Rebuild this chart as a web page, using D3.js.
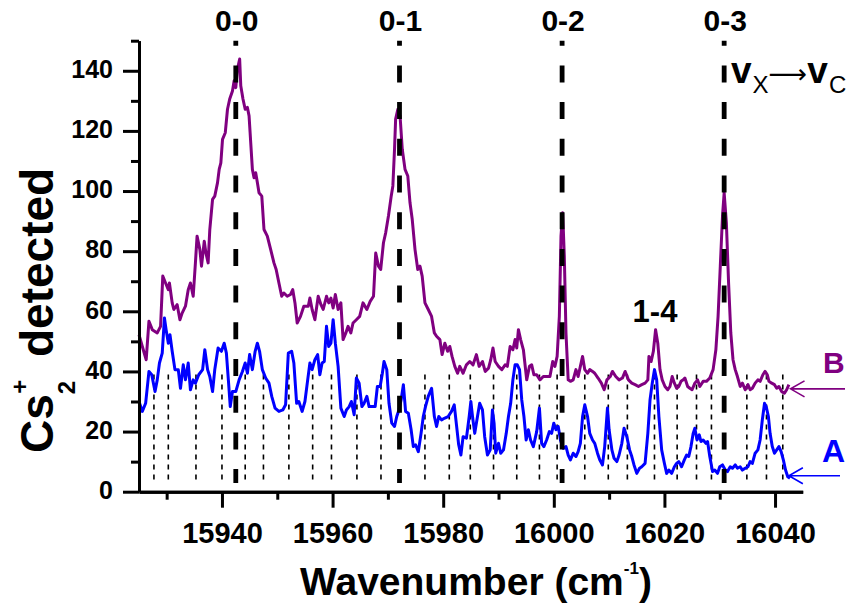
<!DOCTYPE html>
<html><head><meta charset="utf-8">
<script src="https://cdn.jsdelivr.net/npm/d3@7"></script>
<style>
body{margin:0;background:#fff}
svg{display:block;font-family:Arial,"Liberation Sans",sans-serif;font-weight:bold}
</style>
</head><body>
<svg id="chart" width="850" height="606"></svg>
<script>
// ---------------- data ----------------
const xMajorTicks = [15940, 15960, 15980, 16000, 16020, 16040];
const xMinorTicks = [15930, 15950, 15970, 15990, 16010, 16030];
const yMajorTicks = [0, 20, 40, 60, 80, 100, 120, 140];
const yMinorTicks = [10, 30, 50, 70, 90, 110, 130, 150];

const transLabels = ["0-0", "0-1", "0-2", "0-3"];
const transPos    = [15942.5, 15972.1, 16001.5, 16030.8];

const linePos = [15927.7, 15930.3, 15935.3, 15940.0, 15944.2, 15947.5, 15952.1, 15956.4,
  15959.8, 15964.4, 15968.75, 15976.7, 15981.1, 15984.9, 15989.1, 15993.3, 15997.4,
  16000.6, 16005.6, 16009.85, 16013.3, 16018.2, 16022.3, 16025.8, 16028.5, 16034.9,
  16038.45, 16041.4];

// spectrum B (purple)
const specB = [
[15925.0,52.2],[15925.6,48.3],[15926.3,43.9],[15926.8,56.7],[15927.4,53.9],[15928.3,52.8],[15928.9,55],
[15929.3,71.7],[15929.8,69.4],[15930.3,67.2],[15930.5,69.4],[15931.0,62.8],[15931.3,60.6],[15931.9,62.2],
[15932.4,57.2],[15932.8,59.4],[15933.4,61.7],[15933.9,67.2],[15934.3,69.4],[15934.8,65],[15935.2,76.1],
[15935.5,85],[15936.0,80.6],[15936.3,75],[15936.8,83.3],[15937.1,79.4],[15937.5,76.1],[15937.8,87.2],
[15938.3,97.2],[15938.7,98.3],[15939.2,102.8],[15939.5,107.2],[15939.8,109.4],[15940.1,117.2],[15940.6,119.4],
[15941.0,127.2],[15941.4,130.6],[15941.9,133.3],[15942.2,136.7],[15942.5,134.4],[15942.8,140.6],[15943.2,143.9],
[15943.4,135],[15943.8,130.6],[15944.2,127.2],[15944.6,127.8],[15944.9,125],[15945.2,116.1],[15945.5,107.2],
[15945.8,104.4],[15946.1,106.1],[15946.4,102.8],[15946.7,99.4],[15947.2,98.3],[15947.6,87.2],[15948.2,85],
[15948.8,80.6],[15949.4,76.1],[15949.8,73.9],[15950.3,69.4],[15950.8,65],[15951.2,66.1],[15951.8,65],
[15952.4,65.6],[15952.8,67.2],[15953.2,62.8],[15953.6,56.1],[15954.2,58.3],[15954.8,61.7],
[15955.6,61.7],[15955.9,64.4],[15956.3,60.6],[15956.8,57.2],[15957.4,65],[15957.9,62.2],[15958.3,60.6],
[15958.9,65],[15959.3,62.8],[15959.7,64.4],[15960.1,61.1],[15960.5,65.6],[15961.0,60.6],[15961.5,62.8],
[15961.9,50.6],[15962.4,52.8],[15962.8,55],[15963.3,52.8],[15963.7,56.1],[15964.3,57.2],[15964.9,58.3],
[15965.5,62.8],[15966.2,60.6],[15966.8,63.3],[15967.4,65],[15967.8,79.4],[15968.3,75],[15968.7,73.9],
[15969.2,82.8],[15969.6,86.1],[15970.1,91.7],[15970.6,98.3],[15970.9,101.7],[15971.2,113.9],[15971.4,123.9],
[15971.8,127.2],[15972.2,125],[15972.6,113.9],[15973.1,107.2],[15973.6,105],[15974.0,96.1],[15974.4,90.6],
[15974.9,80.6],[15975.4,73.9],[15975.8,75],[15976.2,71.7],[15976.7,62.8],[15977.3,60.6],[15977.9,58.3],
[15978.4,52.8],[15978.8,51.7],[15979.4,50.6],[15979.8,45.6],[15980.3,49.4],[15980.8,46.7],[15981.2,48.3],
[15981.6,45],[15982.1,41.7],[15982.6,39.4],[15983.0,41.7],[15983.6,39.4],[15984.2,42.2],
[15984.8,43.3],[15985.4,42.2],[15986.0,45.6],[15986.5,41.7],[15987.1,43.3],[15987.6,40],[15988.2,41.1],
[15988.6,43.9],[15989.0,47.8],[15989.4,43.3],[15990.0,41.7],[15990.6,40.6],[15991.2,42.2],[15991.6,41.7],
[15992.1,48.3],[15992.6,47.2],[15993.0,50.6],[15993.3,47.8],[15993.6,53.9],[15994.0,50.6],[15994.5,47.2],
[15995.1,37.2],[15995.6,41.7],[15996.0,42.2],[15996.4,38.9],[15996.9,38.9],[15997.5,37.2],[15998.1,38.3],
[15998.7,38.3],[15999.3,38.3],[15999.8,43.3],[16000.2,41.7],[16000.6,45],[16001.0,58.3],[16001.3,85],
[16001.6,92.8],[16001.9,78.3],[16002.2,52.8],[16002.6,37.2],[16003.0,36.7],[16003.5,37.2],[16004.0,40.6],
[16004.4,38.3],[16004.8,41.7],[16005.2,45],[16005.6,40.6],[16006.1,39.4],[16006.5,40.6],[16007.0,40],
[16007.4,39.4],[16008.0,37.8],[16008.6,36.1],[16009.1,33.9],[16009.6,37.2],[16010.2,38.3],[16010.6,40],
[16011.2,38.3],[16011.8,37.2],[16012.4,37.8],[16012.9,40],[16013.5,37.2],[16014.1,36.1],[16014.7,35.6],
[16015.3,35],[16015.9,35.6],[16016.5,36.1],[16017.0,37.2],[16017.2,45],[16017.6,43.3],[16018.0,46.7],
[16018.4,53.9],[16018.8,49.4],[16019.2,40.6],[16019.6,37.2],[16020.1,35],[16020.6,33.9],[16021.0,35],
[16021.4,38.3],[16021.8,36.1],[16022.2,34.4],[16022.6,35],[16023.0,36.7],[16023.4,37.2],[16023.7,37.8],
[16024.2,35],[16024.6,34.4],[16025.0,33.9],[16025.5,36.1],[16026.0,37.2],[16026.4,35],[16027.0,36.7],
[16027.6,36.7],[16028.2,37.8],[16028.8,40.6],[16029.3,47.2],[16029.7,58.3],[16030.1,75],[16030.5,91.7],
[16030.8,99.4],[16031.2,89.4],[16031.6,69.4],[16032.0,52.8],[16032.4,43.9],[16032.8,40.6],[16033.2,38.3],
[16033.7,35],[16034.1,36.1],[16034.6,33.9],[16035.1,35.6],[16035.5,33.9],[16035.9,34.4],[16036.4,36.1],
[16036.9,37.2],[16037.3,36.7],[16037.8,38.9],[16038.2,40],[16038.6,38.9],[16038.9,36.7],[16039.4,36.1],
[16039.9,35.6],[16040.3,34.4],[16040.7,35],[16041.2,33.3],[16041.7,32.8],[16042.1,33.9],[16042.5,35.6]
];

// spectrum A (blue)
const specA = [
[15925.0,30],[15925.6,26.7],[15926.2,29.4],[15926.8,40],[15927.3,38.9],[15927.9,33.3],[15928.3,37.2],
[15928.7,42.8],[15929.2,46.1],[15929.6,57.8],[15929.9,53.9],[15930.3,49.4],[15930.6,52.2],[15931.0,46.7],
[15931.5,40.6],[15932.1,40.6],[15932.5,34.4],[15933.0,42.2],[15933.4,37.2],[15933.9,42.8],[15934.3,33.9],
[15934.8,37.2],[15935.2,36.1],[15935.8,38.9],[15936.5,40.6],[15936.9,47.2],[15937.4,40.6],[15937.8,38.3],
[15938.3,33.3],[15938.7,40.6],[15939.3,47.8],[15939.9,46.7],[15940.4,49.4],[15940.8,46.1],[15941.2,36.1],
[15941.5,28.3],[15941.9,33.3],[15942.5,33.3],[15943.1,37.2],[15943.7,40],[15944.2,42.8],[15944.6,39.4],
[15945.0,45.6],[15945.5,40.6],[15946.0,46.7],[15946.4,49.4],[15946.8,46.7],[15947.3,40.6],[15947.9,37.8],
[15948.5,36.1],[15949.0,31.7],[15949.6,27.8],[15950.3,26.7],[15951.0,27.2],[15951.5,28.9],[15952.0,46.1],
[15952.6,46.7],[15953.0,42.8],[15953.5,29.4],[15953.9,30],[15954.5,26.7],[15955.0,30],
[15955.5,37.2],[15955.9,42.8],[15956.3,40.6],[15956.8,43.9],[15957.3,45.6],[15957.7,38.9],[15958.1,42.8],
[15958.5,43.3],[15958.9,55],[15959.3,48.3],[15959.7,49.4],[15960.1,57.2],[15960.5,49.4],[15961.0,41.7],
[15961.5,27.8],[15962.1,25],[15962.5,27.2],[15963.0,28.3],[15963.4,30],[15963.9,25.6],[15964.3,37.8],
[15964.8,36.1],[15965.3,28.3],[15965.7,29.4],[15966.2,31.7],[15966.6,28.3],[15967.1,28.3],[15967.7,28.3],
[15968.1,35],[15968.6,35],[15969.0,39.4],[15969.3,43.3],[15969.8,40.6],[15970.2,29.4],[15970.7,22.8],
[15971.2,21.7],[15971.6,25],[15972.0,27.2],[15972.4,30.6],[15972.8,35.6],[15973.2,26.7],[15973.7,26.1],
[15974.2,20.6],[15974.6,15],[15975.0,15.6],[15975.5,13.3],[15976.0,19.4],[15976.4,25],[15976.8,28.3],
[15977.3,31.7],[15977.9,34.4],[15978.4,25],[15978.8,21.7],[15979.2,25],[15979.7,23.9],[15980.3,24.5],
[15980.9,25],[15981.5,26.7],[15982.0,28.9],[15982.4,22.2],[15982.8,15.6],[15983.2,12.2],[15983.6,18.3],
[15984.2,17.8],[15984.7,25],[15985.0,30],
[15985.3,25],[15985.7,19.4],[15986.2,25],[15986.6,29.4],[15987.1,27.2],[15987.5,18.3],[15988.0,12.2],
[15988.5,13.9],[15988.9,27.2],[15989.2,22.8],[15989.5,12.8],[15990.0,16.1],[15990.4,12.8],[15990.9,13.9],
[15991.4,19.4],[15991.8,25],[15992.2,29.4],[15992.6,37.2],[15993.0,42.2],[15993.4,42.2],[15993.8,40.6],
[15994.2,30.6],[15994.6,25],[15995.0,17.2],[15995.4,20.6],[15995.8,17.2],[15996.3,15],[15996.9,20],
[15997.4,27.8],[15997.8,16.1],[15998.2,15],[15998.7,17.2],[15999.2,20],[15999.6,19.4],[16000.0,22.8],
[16000.4,20.6],[16000.8,21.7],[16001.2,17.2],[16001.7,14.4],[16002.2,15],[16002.6,12.2],[16003.0,10.6],
[16003.5,12.8],[16004.0,11.7],[16004.4,13.3],[16004.8,16.1],[16005.2,25],[16005.6,28.9],[16006.1,25],
[16006.5,19.4],[16007.0,17.2],[16007.4,16.1],[16007.9,12.8],[16008.3,10.6],[16008.8,8.9],[16009.2,15],
[16009.7,27.8],[16010.0,20.6],[16010.5,13.9],[16010.9,11.1],[16011.4,10],[16011.8,12.2],[16012.3,16.1],
[16012.7,21.1],[16013.2,18.3],[16013.7,13.9],[16014.1,11.7],[16014.5,8.9],[16015.0,6.1],[16015.5,7.8],
[16015.9,8.3],[16016.5,9.4],[16017.0,19.4],[16017.4,30.6],[16017.8,36.1],[16018.2,40.6],[16018.6,37.2],
[16019.0,25],[16019.5,13.9],[16020.0,9.4],[16020.4,6.1],[16020.8,7.2],[16021.3,6.1],[16021.8,8.3],
[16022.2,9.4],[16022.6,10],[16023.1,8.3],[16023.6,10.6],[16024.0,12.2],[16024.4,11.7],[16024.8,15],
[16025.2,19.4],[16025.5,21.1],[16025.9,17.2],[16026.3,18.9],[16026.6,16.7],[16027.0,17.2],[16027.5,16.1],
[16027.8,16.7],[16028.2,11.7],[16028.7,6.7],[16029.1,7.2],[16029.6,6.1],[16030.0,8.3],[16030.5,8.9],
[16031.0,7.2],[16031.4,6.7],[16031.9,8.3],[16032.3,7.8],[16032.8,8.9],[16033.2,7.8],[16033.7,8.3],
[16034.1,7.2],[16034.6,7.8],[16035.1,8.3],[16035.5,10],[16035.9,9.4],[16036.4,12.8],[16036.9,13.9],
[16037.3,17.2],[16037.7,23.9],[16038.1,29.4],[16038.4,28.3],[16038.8,25],[16039.1,19.4],[16039.5,15],
[16039.9,12.8],[16040.3,13.9],[16040.7,15],[16041.1,13.3],[16041.5,10.6],[16041.9,7.2],[16042.3,5],
[16042.7,4.5]
];

// ---------------- drawing ----------------
const svg = d3.select("#chart");
const x = d3.scaleLinear().domain([15925, 16045]).range([139, 802.7]);
const y = d3.scaleLinear().domain([0, 150]).range([491.7, 40.7]);

const colorB = "#800080", colorA = "#0000FF";

// thin dotted lines
svg.append("g").selectAll("line").data(linePos).join("line")
  .attr("x1", d => x(d)).attr("x2", d => x(d))
  .attr("y1", y(39)).attr("y2", y(3))
  .attr("stroke", "#000").attr("stroke-width", 1.6)
  .attr("stroke-dasharray", "5,5");

// curves
const line = d3.line().x(d => x(d[0])).y(d => y(d[1]));
svg.append("path").datum(specB).attr("d", line)
  .attr("fill", "none").attr("stroke", colorB).attr("stroke-width", 3).attr("stroke-linejoin", "round");
svg.append("path").datum(specA).attr("d", line)
  .attr("fill", "none").attr("stroke", colorA).attr("stroke-width", 3).attr("stroke-linejoin", "round");

// heavy dashed transition lines
svg.append("g").selectAll("line").data(transPos).join("line")
  .attr("x1", d => x(d)).attr("x2", d => x(d))
  .attr("y1", y(150)).attr("y2", y(2.9))
  .attr("stroke", "#000").attr("stroke-width", 4.8)
  .attr("stroke-dasharray", "17,19.7").attr("stroke-dashoffset", 12);

// transition labels
svg.append("g").selectAll("text").data(transLabels).join("text")
  .attr("x", (d, i) => x(transPos[i]) + 1).attr("y", 31)
  .attr("text-anchor", "middle").attr("font-size", 30).text(d => d);

// 1-4 label
svg.append("text").attr("x", x(16018.3)).attr("y", 322)
  .attr("text-anchor", "middle").attr("font-size", 31).text("1-4");

// vX -> vC label
const vt = svg.append("text").attr("x", 731).attr("y", 83).attr("font-size", 37);
vt.append("tspan").text("v");
vt.append("tspan").attr("font-size", 24).attr("font-weight", "normal").attr("dx", 1).attr("dy", 10).text("X");
vt.append("tspan").attr("font-size", 27).attr("font-weight", "normal").attr("font-family", "'DejaVu Sans'")
  .attr("dx", 0).attr("dy", -10).text("⟶");
vt.append("tspan").attr("dx", 0).text("v");
vt.append("tspan").attr("font-size", 24).attr("font-weight", "normal").attr("dx", 1).attr("dy", 10).text("C");

// axes
const axisStyle = g => {
  g.select(".domain").attr("stroke-width", 3);
  g.selectAll(".tick line").attr("stroke-width", 3);
  g.selectAll("text").attr("fill", "#000").attr("font-family", "Arial, 'Liberation Sans', sans-serif").attr("font-weight", "bold");
};
const gx = svg.append("g").attr("transform", `translate(0,${y(0)})`)
  .call(d3.axisBottom(x).tickValues(xMajorTicks).tickSize(16).tickSizeOuter(0).tickPadding(15).tickFormat(d3.format("d")));
gx.call(axisStyle);
gx.selectAll("text").attr("font-size", 29).attr("dy", "0.71em");
const gxm = svg.append("g").attr("transform", `translate(0,${y(0)})`)
  .call(d3.axisBottom(x).tickValues(xMinorTicks).tickSize(8).tickSizeOuter(0).tickFormat(""));
gxm.call(axisStyle);

const gy = svg.append("g").attr("transform", `translate(${x(15925)},0)`)
  .call(d3.axisLeft(y).tickValues(yMajorTicks).tickSize(16).tickSizeOuter(0).tickPadding(10));
gy.call(axisStyle);
gy.selectAll("text").attr("font-size", 25).attr("dy", "0.27em");
const gym = svg.append("g").attr("transform", `translate(${x(15925)},0)`)
  .call(d3.axisLeft(y).tickValues(yMinorTicks).tickSize(8).tickSizeOuter(0).tickFormat(""));
gym.call(axisStyle);

// series labels and arrows
svg.append("text").attr("x", 823).attr("y", 373).attr("font-size", 30).attr("fill", colorB).text("B");
svg.append("text").attr("x", 822).attr("y", 462).attr("font-size", 32).attr("fill", colorA).text("A");
const arrow = (yv, xs, xe, col) => {
  const yy = y(yv), x0 = x(xs);
  svg.append("path").attr("d", `M${xe},${yy}L${x0},${yy}M${x0 + 14},${yy - 8}L${x0},${yy}L${x0 + 14},${yy + 8}`)
    .attr("fill", "none").attr("stroke", col).attr("stroke-width", 1.6);
};
arrow(34.2, 16042.8, 845, colorB);
arrow(5.3, 16042.5, 840, colorA);

// axis titles
const xt = svg.append("text").attr("x", 476).attr("y", 595).attr("text-anchor", "middle").attr("font-size", 39);
xt.append("tspan").text("Wavenumber (cm");
xt.append("tspan").attr("font-size", 17).attr("dy", -21).text("-1");
xt.append("tspan").attr("dy", 21).text(")");

const yt = svg.append("text").attr("transform", "translate(53,453) rotate(-90)").attr("font-size", 46);
yt.append("tspan").text("Cs");
yt.append("tspan").attr("font-size", 24).attr("dy", 22).text("2");
yt.append("tspan").attr("font-size", 24).attr("dx", -13).attr("dy", -47).text("+");
yt.append("tspan").attr("dx", 10).attr("dy", 25).text(" detected");
</script>
</body></html>
